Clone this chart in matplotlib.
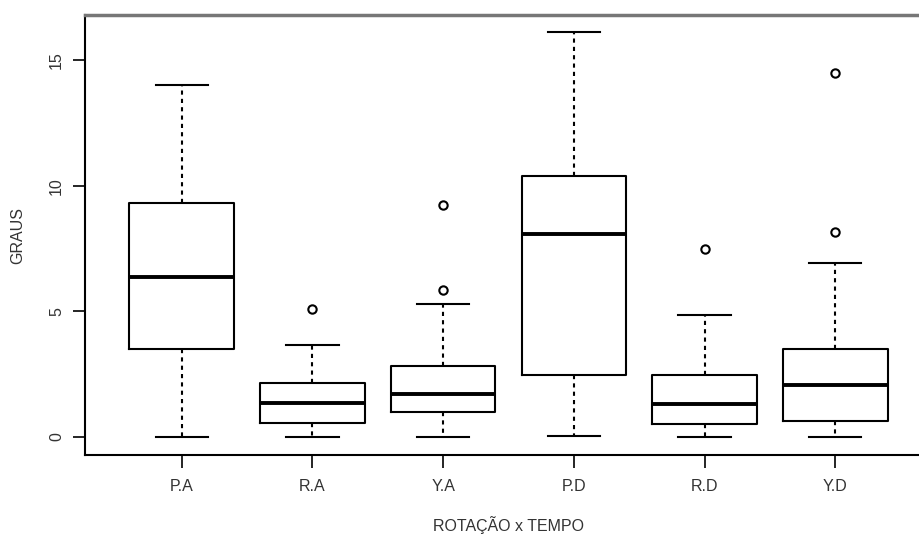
import matplotlib
matplotlib.use("Agg")
import matplotlib.pyplot as plt

plt.rcParams['font.family'] = ['Liberation Sans', 'DejaVu Sans']

# values (degrees)
groups = ['P.A', 'R.A', 'Y.A', 'P.D', 'R.D', 'Y.D']
whis_low = [0.0, 0.0, 0.0, 0.05, 0.0, 0.0]
q1 = [3.50, 0.56, 0.99, 2.47, 0.52, 0.64]
median = [6.37, 1.35, 1.71, 8.08, 1.31, 2.07]
q3 = [9.31, 2.15, 2.83, 10.39, 2.47, 3.50]
whis_high = [14.0, 3.66, 5.29, 16.1, 4.85, 6.92]
outliers = [[], [5.09], [5.85, 9.23], [], [7.48], [8.16, 14.48]]

stats = []
for i, g in enumerate(groups):
    stats.append({'label': g, 'whislo': whis_low[i], 'q1': q1[i], 'med': median[i],
                  'q3': q3[i], 'whishi': whis_high[i], 'fliers': outliers[i]})

fig = plt.figure(figsize=(9.2, 5.38), dpi=100)
ax = fig.add_axes([0.0924, 0.1543, 0.9207, 0.8177])

ax.bxp(stats, positions=range(1, 7), widths=0.8, capwidths=0.4,
       boxprops=dict(color='black', linewidth=1.5),
       medianprops=dict(color='black', linewidth=2.8),
       whiskerprops=dict(color='black', linewidth=1.5, linestyle=(0, (2, 2))),
       capprops=dict(color='black', linewidth=1.5),
       flierprops=dict(marker='o', markerfacecolor='none', markeredgecolor='black',
                       markersize=6, markeredgewidth=1.5))

ax.set_xlim(0.26, 6.74)
ax.set_ylim(-0.72, 16.79)
ax.set_yticks([0, 5, 10, 15])
ax.set_yticklabels(['0', '5', '10', '15'], rotation=90, va='center')
ax.tick_params(axis='both', length=9, width=1.2, labelsize=11.5, colors='black',
               labelcolor='#333333', pad=6)
ax.tick_params(axis='x', pad=8)

for s in ['left', 'bottom']:
    ax.spines[s].set_linewidth(1.5)
ax.spines['top'].set_color('#777777')
ax.spines['top'].set_linewidth(2.5)
ax.spines['right'].set_visible(False)

ax.set_ylabel('GRAUS', fontsize=11.5, color='#333333', labelpad=17)
ax.set_xlabel('ROTAÇÃO x TEMPO', fontsize=11.5, color='#333333', labelpad=16)

fig.savefig('out.png', dpi=100, facecolor='white')
